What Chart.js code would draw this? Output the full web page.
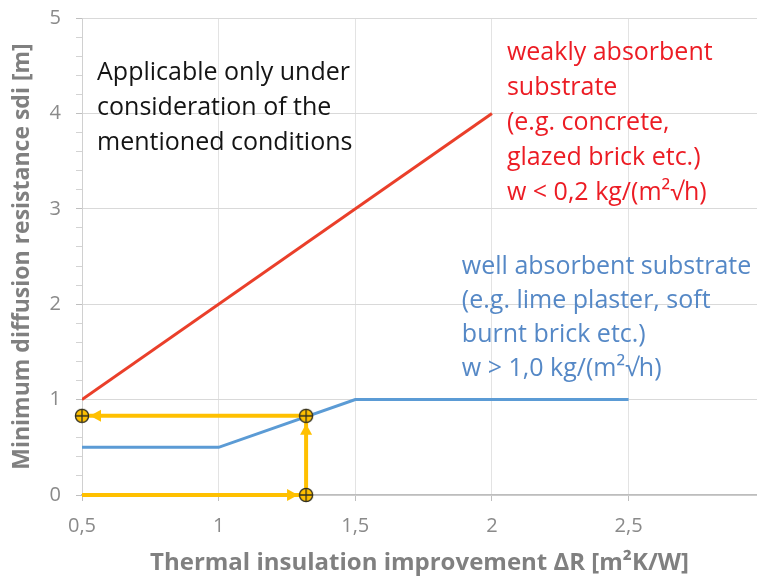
<!DOCTYPE html>
<html>
<head>
<meta charset="utf-8">
<script src="https://cdn.jsdelivr.net/npm/chart.js@4.4.1/dist/chart.umd.min.js"></script>
<style>
  html, body { margin: 0; padding: 0; background: #fff; overflow: hidden; }
  #wrap { position: relative; width: 757px; height: 580px; }
  canvas { display: block; }
</style>
</head>
<body>
<div id="wrap"><canvas id="chart"></canvas></div>
<script>
// weakly absorbent substrate (red line)
const weakX = [0.5, 2];
const weakY = [1, 4];
// well absorbent substrate (blue line)
const wellX = [0.5, 1, 1.5, 2.5];
const wellY = [0.5, 0.5, 1, 1];
// reading example (yellow arrows)
const startX = 0.5;
const readX = 1.32;
const readY = 0.83;

const xTicks = [0.5, 1, 1.5, 2, 2.5];
const yTicks = [0, 1, 2, 3, 4, 5];

const noteLines = ["Applicable only under", "consideration of the", "mentioned conditions"];
const weakLines = ["weakly absorbent", "substrate", "(e.g. concrete,", "glazed brick etc.)", "w < 0,2 kg/(m²√h)"];
const wellLines = ["well absorbent substrate", "(e.g. lime plaster, soft", "burnt brick etc.)", "w > 1,0 kg/(m²√h)"];

const FONT = "'Open Sans', sans-serif";
const RED = '#ea3f2a';
const BLUE = '#5b9bd5';
const YELLOW = '#ffc000';

function pts(xs, ys) {
    return xs.map((v, i) => ({ x: v, y: ys[i] }));
}

function comma(v) {
    return String(v).replace('.', ',');
}

function makeMarker() {
    const c = document.createElement('canvas');
    c.width = 16;
    c.height = 16;
    const g = c.getContext('2d');
    g.beginPath();
    g.arc(8, 8, 6.6, 0, Math.PI * 2);
    g.fillStyle = YELLOW;
    g.fill();
    g.lineWidth = 1.3;
    g.strokeStyle = '#33301f';
    g.stroke();
    g.beginPath();
    g.moveTo(1.5, 8); g.lineTo(14.5, 8);
    g.moveTo(8, 1.5); g.lineTo(8, 14.5);
    g.stroke();
    return c;
}

// text blocks, anchored in data units
const blocks = [
    { lines: noteLines, x: 0.555, y: 4.43, lh: 35, color: '#141414', size: 25 },
    { lines: weakLines, x: 2.055, y: 4.63, lh: 35, color: '#ec1c24', size: 25 },
    { lines: wellLines, x: 1.89, y: 2.39, lh: 34, color: '#5588c6', size: 25 }
];

const notes = {
    id: 'notes',
    afterDatasetsDraw(chart) {
        const { ctx, scales: { x, y } } = chart;
        blocks.forEach(b => {
            ctx.save();
            ctx.font = b.size + 'px ' + FONT;
            ctx.fillStyle = b.color;
            ctx.textBaseline = 'middle';
            const px = x.getPixelForValue(b.x);
            const py = y.getPixelForValue(b.y);
            b.lines.forEach((t, k) => ctx.fillText(t, px, py + k * b.lh));
            ctx.restore();
        });
    }
};

const arrowHeads = {
    id: 'arrowHeads',
    afterDatasetsDraw(chart) {
        const ctx = chart.ctx;
        chart.data.datasets.forEach((ds, i) => {
            if (!ds.arrow) return;
            const els = chart.getDatasetMeta(i).data;
            const a = els[els.length - 2], b = els[els.length - 1];
            const ang = Math.atan2(b.y - a.y, b.x - a.x);
            const cos = Math.cos(ang), sin = Math.sin(ang);
            const tx = b.x - cos * 8, ty = b.y - sin * 8;
            const len = 11, half = 6;
            ctx.save();
            ctx.fillStyle = ds.borderColor;
            ctx.beginPath();
            ctx.moveTo(tx, ty);
            ctx.lineTo(tx - cos * len - sin * half, ty - sin * len + cos * half);
            ctx.lineTo(tx - cos * len + sin * half, ty - sin * len - cos * half);
            ctx.closePath();
            ctx.fill();
            ctx.restore();
        });
    }
};

// fixed axis boxes, no extra label padding
function fixBox(s, key, size) {
    s[key] = size;
    s.paddingTop = 0;
    s.paddingBottom = 0;
    s.paddingLeft = 0;
    s.paddingRight = 0;
}

const marker = makeMarker();
const arrowStyle = { type: 'line', borderColor: YELLOW, borderWidth: 4, pointRadius: 0, arrow: true, clip: false, order: 3 };

new Chart(document.getElementById('chart'), {
    type: 'scatter',
    data: {
        datasets: [
            {
                data: pts([readX, readX, startX], [0, readY, readY]),
                pointStyle: marker,
                pointRadius: 8,
                showLine: false,
                clip: false,
                order: 1
            },
            Object.assign({ data: pts([startX, readX], [0, 0]) }, arrowStyle),
            Object.assign({ data: pts([readX, readX], [0, readY]) }, arrowStyle),
            Object.assign({ data: pts([readX, startX], [readY, readY]) }, arrowStyle),
            {
                type: 'line',
                data: pts(weakX, weakY),
                borderColor: RED,
                borderWidth: 3,
                pointRadius: 0,
                order: 5
            },
            {
                type: 'line',
                data: pts(wellX, wellY),
                borderColor: BLUE,
                borderWidth: 3,
                pointRadius: 0,
                order: 5
            }
        ]
    },
    options: {
        responsive: true,
        maintainAspectRatio: false,
        animation: false,
        layout: { autoPadding: false, padding: { top: 18, right: 0, bottom: 0, left: 0 } },
        plugins: {
            legend: { display: false },
            tooltip: { enabled: false }
        },
        scales: {
            x: {
                type: 'linear',
                min: 0.5,
                max: 2.97,
                afterBuildTicks: s => { s.ticks = xTicks.map(v => ({ value: v })); },
                afterFit: s => fixBox(s, 'height', 85),
                ticks: {
                    color: '#8a8a8a',
                    font: { family: FONT, size: 20 },
                    padding: 13,
                    callback: v => comma(v)
                },
                grid: {
                    color: '#e3e3e3',
                    tickColor: '#bfbfbf',
                    tickLength: 6
                },
                border: { color: '#bdbdbd', width: 1.5 },
                title: {
                    display: true,
                    text: 'Thermal insulation improvement ΔR [m²K/W]',
                    color: '#808080',
                    font: { family: FONT, size: 24, weight: 'bold' },
                    padding: { top: 0, bottom: 2 }
                }
            },
            y: {
                min: 0,
                max: 5,
                afterBuildTicks: s => {
                    const t = [];
                    for (let k = 0; k <= 25; k++) t.push({ value: k / 5 });
                    s.ticks = t;
                },
                afterFit: s => fixBox(s, 'width', 82),
                ticks: {
                    color: '#8a8a8a',
                    font: { family: FONT, size: 20 },
                    padding: 15,
                    autoSkip: false,
                    callback: v => yTicks.includes(v) ? comma(v) : ''
                },
                grid: {
                    color: c => yTicks.includes(c.tick.value) ? '#d9d9d9' : 'rgba(0,0,0,0)',
                    tickColor: c => yTicks.includes(c.tick.value) ? '#bfbfbf' : '#d3d3d3',
                    tickLength: 6
                },
                border: { color: '#d0d0d0', width: 1 },
                title: {
                    display: true,
                    text: 'Minimum diffusion resistance sdi [m]',
                    color: '#808080',
                    font: { family: FONT, size: 23, weight: 'bold' },
                    padding: { top: 9, bottom: 0 }
                }
            }
        }
    },
    plugins: [notes, arrowHeads]
});
</script>
</body>
</html>
